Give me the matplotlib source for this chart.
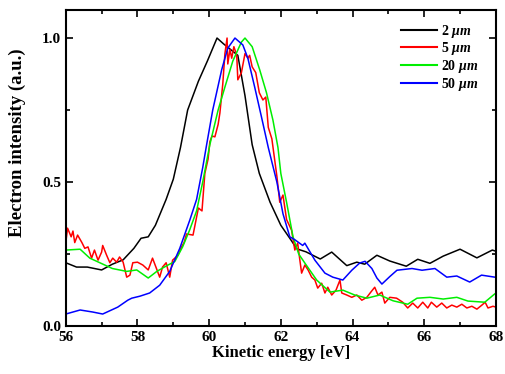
import matplotlib
matplotlib.use("Agg")
import matplotlib.pyplot as plt
from matplotlib.ticker import MultipleLocator

plt.rcParams['font.family'] = ['Liberation Serif', 'DejaVu Serif']
plt.rcParams['font.weight'] = 'bold'
plt.rcParams['mathtext.fontset'] = 'custom'
plt.rcParams['mathtext.it'] = 'Liberation Serif:italic:bold'
plt.rcParams['mathtext.rm'] = 'Liberation Serif:bold'

# 2 um (black)
x_2um = [56.0, 56.3, 56.6, 57.0, 57.3, 57.6, 57.9, 58.1, 58.3, 58.5, 58.8, 59.0, 59.2,
         59.4, 59.7, 59.95, 60.22, 60.4, 60.6, 60.8, 61.0, 61.2, 61.4, 61.7, 62.0, 62.25,
         62.45, 62.7, 63.1, 63.42, 63.84, 64.12, 64.34, 64.68, 65.04, 65.5, 65.82, 66.16,
         66.53, 67.0, 67.47, 67.9, 68.0]
y_2um = [0.22, 0.205, 0.205, 0.195, 0.215, 0.23, 0.27, 0.305, 0.31, 0.35, 0.44, 0.51, 0.62,
         0.75, 0.85, 0.92, 1.0, 0.98, 0.96, 0.94, 0.80, 0.63, 0.53, 0.43, 0.35, 0.305,
         0.268, 0.258, 0.233, 0.257, 0.21, 0.222, 0.215, 0.246, 0.226, 0.208, 0.232, 0.218,
         0.243, 0.267, 0.237, 0.264, 0.26]

# 5 um (red)
x_5um = [56.0, 56.05, 56.15, 56.2, 56.25, 56.33, 56.45, 56.53, 56.62, 56.72, 56.8, 56.9,
         57.0, 57.03, 57.14, 57.23, 57.31, 57.42, 57.5, 57.6, 57.7, 57.79, 57.87, 58.0,
         58.15, 58.3, 58.42, 58.53, 58.62, 58.7, 58.8, 58.9, 58.98, 59.13, 59.23, 59.3,
         59.37, 59.55, 59.7, 59.8, 59.88, 59.97, 60.02, 60.08, 60.16, 60.25, 60.3, 60.38,
         60.44, 60.5, 60.52, 60.58, 60.63, 60.69, 60.77, 60.8, 60.9, 61.0, 61.08, 61.13,
         61.2, 61.3, 61.4, 61.5, 61.58, 61.65, 61.75, 61.89, 61.97, 62.06, 62.16, 62.3,
         62.39, 62.47, 62.53, 62.58, 62.67, 62.76, 62.86, 62.95, 63.03, 63.14, 63.23, 63.31,
         63.42, 63.54, 63.65, 63.7, 63.84, 63.98, 64.12, 64.26, 64.4, 64.51, 64.62, 64.71,
         64.82, 64.9, 65.04, 65.23, 65.4, 65.54, 65.68, 65.82, 65.96, 66.1, 66.2, 66.35,
         66.49, 66.63, 66.77, 66.91, 67.05, 67.19, 67.33, 67.47, 67.61, 67.7, 67.78, 67.92,
         68.0]
y_5um = [0.29, 0.34, 0.31, 0.33, 0.29, 0.316, 0.29, 0.27, 0.275, 0.236, 0.264, 0.229,
         0.257, 0.28, 0.246, 0.22, 0.236, 0.222, 0.24, 0.222, 0.17, 0.177, 0.22, 0.222,
         0.212, 0.195, 0.236, 0.2, 0.17, 0.205, 0.22, 0.17, 0.229, 0.246, 0.275, 0.29,
         0.32, 0.316, 0.41, 0.40, 0.53, 0.58, 0.64, 0.66, 0.657, 0.70, 0.74, 0.84,
         0.946, 1.0, 0.91, 0.96, 0.93, 0.97, 0.94, 0.855, 0.88, 0.946, 0.93, 0.94,
         0.9, 0.88, 0.81, 0.785, 0.795, 0.69, 0.65, 0.52, 0.43, 0.455, 0.37, 0.333,
         0.264, 0.288, 0.23, 0.184, 0.212, 0.195, 0.17, 0.16, 0.132, 0.149, 0.115, 0.135,
         0.108, 0.125, 0.16, 0.115, 0.108, 0.1, 0.108, 0.09, 0.1, 0.118, 0.135, 0.108,
         0.118, 0.08, 0.1, 0.097, 0.083, 0.063, 0.08, 0.063, 0.083, 0.063, 0.083, 0.066,
         0.08, 0.063, 0.073, 0.066, 0.076, 0.063, 0.069, 0.059, 0.073, 0.083, 0.063, 0.069,
         0.066]

# 20 um (green)
x_20um = [56.0, 56.4, 56.67, 56.95, 57.3, 57.7, 57.98, 58.3, 58.54, 58.82, 59.04, 59.26,
          59.46, 59.65, 59.82, 60.02, 60.25, 60.44, 60.66, 60.9, 61.0, 61.2, 61.41, 61.6,
          61.78, 61.92, 62.0, 62.16, 62.34, 62.5, 62.67, 63.0, 63.37, 63.73, 64.06, 64.4,
          64.76, 65.13, 65.54, 65.8, 66.16, 66.53, 66.91, 67.22, 67.69, 67.97, 68.0]
y_20um = [0.264, 0.267, 0.236, 0.22, 0.2, 0.19, 0.195, 0.167, 0.19, 0.21, 0.224, 0.275,
          0.335, 0.40, 0.5, 0.63, 0.75, 0.83, 0.92, 0.986, 1.0, 0.97, 0.89, 0.81,
          0.715, 0.62, 0.53, 0.43, 0.31, 0.25, 0.219, 0.16, 0.118, 0.125, 0.108, 0.097,
          0.108, 0.088, 0.076, 0.097, 0.1, 0.094, 0.1, 0.087, 0.083, 0.112, 0.114]

# 50 um (blue)
x_50um = [56.0, 56.4, 56.75, 57.03, 57.45, 57.73, 57.84, 58.07, 58.34, 58.62, 58.9, 59.18,
          59.46, 59.65, 59.82, 59.93, 60.1, 60.35, 60.52, 60.72, 60.94, 61.08, 61.27, 61.46,
          61.65, 61.89, 62.06, 62.25, 62.39, 62.61, 62.67, 62.95, 63.23, 63.45, 63.73, 63.98,
          64.2, 64.35, 64.54, 64.68, 64.82, 65.04, 65.24, 65.66, 65.94, 66.3, 66.63, 66.91,
          67.27, 67.6, 67.97, 68.0]
y_50um = [0.042, 0.056, 0.049, 0.042, 0.066, 0.09, 0.097, 0.104, 0.115, 0.142, 0.19, 0.27,
          0.368, 0.44, 0.55, 0.63, 0.75, 0.89, 0.965, 1.0, 0.976, 0.93, 0.83, 0.726,
          0.62, 0.5, 0.39, 0.31, 0.30, 0.28, 0.288, 0.229, 0.184, 0.17, 0.16, 0.194,
          0.219, 0.225, 0.2, 0.167, 0.146, 0.172, 0.194, 0.2, 0.194, 0.2, 0.17, 0.174,
          0.153, 0.177, 0.17, 0.17]

labels = [r'2 $\mu m$', r'5 $\mu m$', r'20 $\mu m$', r'50 $\mu m$']
colors = ['#000000', '#ff0000', '#00ee00', '#0000ff']

fig = plt.figure(figsize=(5.06, 3.74), dpi=100)
ax = fig.add_axes([0.130, 0.128, 0.850, 0.845])

for xs, ys, lab, c in zip([x_2um, x_5um, x_20um, x_50um],
                          [y_2um, y_5um, y_20um, y_50um], labels, colors):
    ax.plot(xs, ys, color=c, lw=1.1, label=lab)

ax.set_xlim(56, 68)
ax.set_ylim(0, 1.097)
ax.xaxis.set_major_locator(MultipleLocator(2))
ax.xaxis.set_minor_locator(MultipleLocator(1))
ax.yaxis.set_major_locator(MultipleLocator(0.5))
ax.yaxis.set_minor_locator(MultipleLocator(0.25))
ax.yaxis.set_major_formatter(matplotlib.ticker.FormatStrFormatter('%.1f'))
ax.tick_params(which='both', direction='in', top=True, right=True, width=1.2,
               labelsize=11)
ax.tick_params(which='major', length=5)
ax.tick_params(which='minor', length=3)
for s in ax.spines.values():
    s.set_linewidth(1.5)

ax.set_xlabel('Kinetic energy [eV]', fontsize=12, fontweight='bold', labelpad=1)
ax.set_ylabel('Electron intensity (a.u.)', fontsize=13.5, fontweight='bold', labelpad=5)
ax.yaxis.set_label_coords(-0.092, 0.58)

leg = ax.legend(loc='upper right', bbox_to_anchor=(0.988, 1.0), frameon=False,
                fontsize=10, handlelength=2.6, handletextpad=0.3,
                labelspacing=0.05, borderaxespad=0.5)
for line in leg.get_lines():
    line.set_linewidth(1.5)

fig.savefig('out.png', dpi=100)
